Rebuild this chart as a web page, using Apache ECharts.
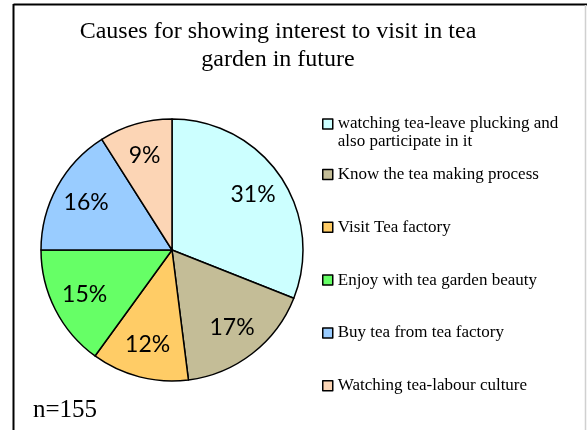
<!DOCTYPE html>
<html>
<head>
<meta charset="utf-8">
<script src="https://cdn.jsdelivr.net/npm/echarts@6/dist/echarts.min.js"></script>
<style>
  html, body { margin: 0; padding: 0; background: #fff; }
  #chart { width: 587px; height: 430px; }
</style>
</head>
<body>
<div id="chart"></div>
<script>
// Reasons respondents gave for wanting to visit a tea garden (n = 155)
const categories = [
  'watching tea-leave plucking and also participate in it',
  'Know the tea making process',
  'Visit Tea factory',
  'Enjoy with tea garden beauty',
  'Buy tea from tea factory',
  'Watching tea-labour culture'
];
const shares = [31, 17, 12, 15, 16, 9];
const colors = ['#CCFFFF', '#C4BD97', '#FFCC66', '#66FF66', '#99CCFF', '#FCD5B5'];
const titleText = 'Causes for showing interest to visit in tea\ngarden in future';
const sampleNote = 'n=155';

const serif = '"Liberation Serif", "Times New Roman", serif';
const pieCenter = [172, 250];

const sliceData = categories.map((name, i) => ({
  name: name,
  value: shares[i],
  itemStyle: { color: colors[i] }
}));

const chart = echarts.init(document.getElementById('chart'), null, { renderer: 'canvas' });

chart.setOption({
  backgroundColor: '#ffffff',
  animation: false,
  color: colors,
  title: {
    text: titleText,
    left: 278,
    top: 18,
    textAlign: 'center',
    padding: 0,
    textStyle: {
      fontFamily: serif,
      fontSize: 24,
      fontWeight: 'normal',
      color: '#000',
      lineHeight: 28
    }
  },
  legend: [
    {
      // long label wraps; a leading blank line keeps the swatch beside the first line
      data: [categories[0]],
      orient: 'vertical',
      left: 322,
      top: 97,
      padding: 0,
      itemWidth: 10,
      itemHeight: 10,
      icon: 'rect',
      selectedMode: false,
      formatter: name => '\n' + name,
      itemStyle: { borderColor: '#000', borderWidth: 1.5 },
      textStyle: {
        fontFamily: serif,
        fontSize: 17,
        color: '#000',
        lineHeight: 18,
        width: 235,
        overflow: 'break'
      }
    },
    {
      data: categories.slice(1),
      orient: 'vertical',
      left: 322,
      top: 166,
      padding: 0,
      itemGap: 35.8,
      itemWidth: 10,
      itemHeight: 10,
      icon: 'rect',
      selectedMode: false,
      itemStyle: { borderColor: '#000', borderWidth: 1.5 },
      textStyle: {
        fontFamily: serif,
        fontSize: 17,
        color: '#000'
      }
    }
  ],
  graphic: [
    // chart frame: dark left and top edges, pale right edge
    { type: 'line', shape: { x1: 13.5, y1: 4, x2: 13.5, y2: 430 }, style: { stroke: '#000', lineWidth: 2 } },
    { type: 'line', shape: { x1: 13.5, y1: 4.5, x2: 587, y2: 4.5 }, style: { stroke: '#000', lineWidth: 2 } },
    { type: 'line', shape: { x1: 585.5, y1: 5, x2: 585.5, y2: 430 }, style: { stroke: '#d0d0d0', lineWidth: 1.5 } },
    {
      type: 'text',
      left: 33,
      top: 398,
      style: { text: sampleNote, font: '25px ' + serif, fill: '#000' }
    }
  ],
  series: [
    {
      type: 'pie',
      center: pieCenter,
      radius: 131,
      startAngle: 90,
      clockwise: true,
      silent: true,
      label: { show: false },
      labelLine: { show: false },
      itemStyle: { borderColor: '#000', borderWidth: 1.5 },
      emphasis: { disabled: true },
      data: sliceData
    },
    {
      // transparent ring that carries the percentage labels at ~0.72 of the radius
      type: 'pie',
      center: pieCenter,
      radius: [59, 131],
      startAngle: 90,
      clockwise: true,
      silent: true,
      legendHoverLink: false,
      emphasis: { disabled: true },
      itemStyle: { color: 'rgba(0,0,0,0)', borderWidth: 0 },
      label: {
        show: true,
        position: 'inside',
        formatter: '{c}%',
        fontFamily: 'Lato, "Open Sans", sans-serif',
        fontSize: 23,
        color: '#000'
      },
      labelLine: { show: false },
      data: categories.map((name, i) => ({ name: name, value: shares[i] }))
    }
  ]
});
</script>
</body>
</html>
